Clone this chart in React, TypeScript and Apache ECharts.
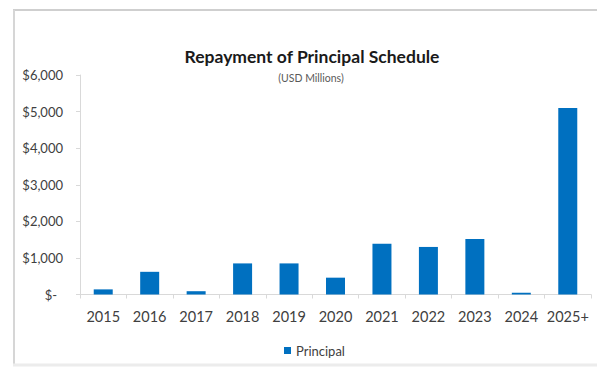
import React, { useEffect, useRef } from "react";
import * as echarts from "echarts";

const categories = ["2015", "2016", "2017", "2018", "2019", "2020", "2021", "2022", "2023", "2024", "2025+"];
const principal = [140, 620, 90, 850, 850, 460, 1390, 1300, 1520, 50, 5100];
const seriesName = "Principal";
const titleText = "Repayment of Principal Schedule";
const subtitleText = "(USD Millions)";

export default function App() {
  const ref = useRef<HTMLDivElement>(null);
  useEffect(() => {
    if (!ref.current) return;
    const chart = echarts.init(ref.current, null, { renderer: "svg" });
    const font = "Lato, 'Open Sans', sans-serif";
    chart.setOption({
      animation: false,
      backgroundColor: "#ffffff",
      textStyle: { fontFamily: font },
      graphic: [
        { type: "line", shape: { x1: 13, y1: 10, x2: 597, y2: 10 }, style: { stroke: "#cfcfcf", lineWidth: 2 } },
        { type: "line", shape: { x1: 14, y1: 10, x2: 14, y2: 365 }, style: { stroke: "#d6d6d6", lineWidth: 2 } },
        { type: "line", shape: { x1: 13, y1: 365, x2: 597, y2: 365 }, style: { stroke: "#ececec", lineWidth: 3 } },
      ],
      title: [
        {
          text: titleText,
          left: 307,
          textAlign: "center",
          top: 42,
          textStyle: { fontFamily: font, fontSize: 17.5, fontWeight: "bold", color: "#1a1a1a" },
        },
        {
          text: subtitleText,
          left: 306,
          textAlign: "center",
          top: 67,
          textStyle: { fontFamily: font, fontSize: 10.5, fontWeight: "normal", color: "#595959" },
        },
      ],
      legend: {
        data: [seriesName],
        left: 279,
        top: 339,
        icon: "rect",
        itemWidth: 7,
        itemHeight: 7,
        itemGap: 4,
        textStyle: { fontFamily: font, fontSize: 13, color: "#404040" },
      },
      grid: { left: 80, right: 6, top: 75, bottom: 73.5, containLabel: false },
      xAxis: {
        type: "category",
        data: categories,
        boundaryGap: true,
        axisLine: { lineStyle: { color: "#d9d9d9", width: 1 } },
        axisTick: { show: true, alignWithLabel: false, interval: 0, length: 4, lineStyle: { color: "#d9d9d9" } },
        axisLabel: { fontFamily: font, fontSize: 14.5, color: "#404040", margin: 14, interval: 0 },
      },
      yAxis: {
        type: "value",
        min: 0,
        max: 6000,
        interval: 1000,
        splitLine: { show: false },
        axisLine: { show: true, lineStyle: { color: "#d9d9d9", width: 1 } },
        axisTick: { show: true, length: 4, lineStyle: { color: "#d9d9d9" } },
        axisLabel: {
          fontFamily: font,
          fontSize: 13,
          color: "#404040",
          margin: 17,
          formatter: (v: number) => (v === 0 ? "{z|$-}" : "$" + v.toLocaleString("en-US")),
          rich: { z: { fontFamily: font, fontSize: 13, color: "#404040", padding: [0, 6, 0, 0] } },
        },
      },
      series: [
        {
          name: seriesName,
          type: "bar",
          data: principal,
          barWidth: 19,
          itemStyle: { color: "#0070C0" },
        },
      ],
    });
    return () => chart.dispose();
  }, []);
  return <div ref={ref} style={{ position: "fixed", left: 0, top: 0, width: 597, height: 368 }} />;
}
